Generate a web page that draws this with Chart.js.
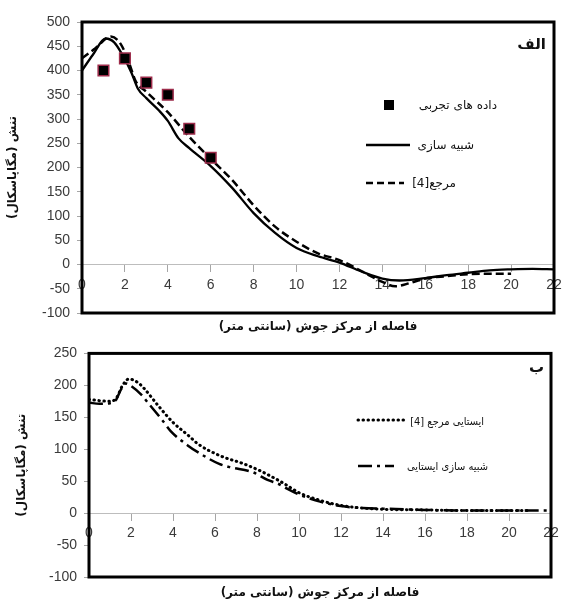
<!DOCTYPE html>
<html><head><meta charset="utf-8">
<script src="https://cdn.jsdelivr.net/npm/chart.js@4"></script>
<style>
html,body{margin:0;padding:0;background:#fff;overflow:hidden;}
#w1{position:absolute;left:0;top:0;width:563px;height:338px;}
#w2{position:absolute;left:0;top:338px;width:563px;height:264px;}
</style></head><body>
<div id="w1"><canvas id="c1"></canvas></div>
<div id="w2"><canvas id="c2"></canvas></div>
<script>
// ---------- data ----------
const xTickValues = [0,2,4,6,8,10,12,14,16,18,20,22];
const yTicksTop = [-100,-50,0,50,100,150,200,250,300,350,400,450,500];
const yTicksBottom = [-100,-50,0,50,100,150,200,250];

// panel الف
const expX = [1,2,3,4,5,6];
const expY = [400,425,375,350,280,220];
const simX = [0,0.5,1.1,1.5,1.9,2.3,2.6,3,3.6,4,4.5,5,6,7,8,9,10,11,12,13,14,14.8,16,17,18,19,20,21,22];
const simY = [400,432,466,458,431,396,363,343,317,296,260,240,203,158,106,65,34,17,4,-14,-29,-33,-28,-22,-17,-12,-10,-9,-10];
const refX = [0,0.6,1.35,1.8,2.2,2.5,3,4,5,6,7,8,9,10,11,12,13,14,14.6,15.3,16,17,18,19,20];
const refY = [425,445,470,455,415,378,356,314,263,218,174,122,78,47,23,9,-13,-36,-45,-38,-29,-24,-20,-19,-19];
const namesTop = ['داده های تجربی','شبیه سازی','مرجع[4]'];

// panel ب
const stSimX = [0,0.5,1,1.3,1.5,1.75,2,2.5,2.8,3.5,3.9,4.7,5.2,6.2,6.7,7.8,8.5,9,9.5,10,10.5,11,12,13,14,16,18,20,22];
const stSimY = [173,171,172,178,192,203,199,185,173,145,128,106,95,77,72,64,52,46,37,29,23,18,11,8,7,5,4,4,4];
const stRefX = [0,0.5,1,1.3,1.6,1.9,2.3,2.6,3.3,4,4.75,5.2,6.3,7.3,8.1,8.7,9.3,10,11,12,13,14,16,18,20,21];
const stRefY = [178,176,175,180,200,210,205,196,168,142,121,108,89,78,67,57,46,32,20,12,8,6,5,4,4,4];
const namesBottom = ['ایستایی مرجع [4]','شبیه سازی ایستایی'];

const xTitle = 'فاصله از مرکز جوش (سانتی متر)';
const yTitle = 'تنش (مگاپاسکال)';
const panelTop = 'الف';
const panelBottom = 'ب';

const pts = (xs, ys) => xs.map((x, i) => ({x, y: ys[i]}));

const FA = '"DejaVu Sans", "Noto Sans", sans-serif';
const FAC = '"DejaVu Sans Condensed", "DejaVu Sans", sans-serif';
const NUM = '"Liberation Sans", Arial, sans-serif';

function drawLegendLine(ctx, x1, x2, y, dash, width, cap) {
  ctx.save();
  ctx.strokeStyle = '#000';
  ctx.lineWidth = width;
  ctx.lineCap = cap || 'butt';
  ctx.setLineDash(dash);
  ctx.beginPath(); ctx.moveTo(x1, y); ctx.lineTo(x2, y); ctx.stroke();
  ctx.restore();
}
function rtlText(ctx, text, x, y, font, align) {
  ctx.save();
  ctx.direction = 'rtl';
  ctx.font = font;
  ctx.fillStyle = '#111';
  ctx.textAlign = align || 'right';
  ctx.textBaseline = 'middle';
  ctx.fillText(text, x, y);
  ctx.restore();
}

function decorPlugin(cfg) {
  return {
    id: 'decor',
    afterDraw(chart) {
      const ctx = chart.ctx, a = chart.chartArea;
      ctx.save();
      ctx.strokeStyle = '#000'; ctx.lineWidth = 3;
      ctx.strokeRect(a.left, a.top, a.right - a.left, a.bottom - a.top);
      ctx.restore();
      cfg.legend(ctx, a);
      rtlText(ctx, cfg.panel, cfg.panelX, cfg.panelY, 'bold 15px ' + FA);
      rtlText(ctx, xTitle, (a.left + a.right) / 2, cfg.xTitleY, 'bold 12px ' + FA, 'center');
      ctx.save();
      ctx.translate(cfg.yTitleX, (a.top + a.bottom) / 2);
      ctx.rotate(-Math.PI / 2);
      rtlText(ctx, yTitle, 0, 0, 'bold 12px ' + FA, 'center');
      ctx.restore();
    }
  };
}

function makeScales(yTicks, yMin, yMax, yWidth) {
  return {
    x: {
      type: 'linear', min: 0, max: 22,
      position: {y: 0},
      afterBuildTicks: s => { s.ticks = xTickValues.map(v => ({value: v})); },
      afterFit: s => { s.paddingLeft = 0; s.paddingRight = 0; },
      ticks: {font: {family: NUM, size: 14}, color: '#3a3a3a', padding: 5, maxRotation: 0, autoSkip: false},
      grid: {drawOnChartArea: false, drawTicks: true, tickLength: 7, color: '#a6a6a6', tickWidth: 1},
      border: {display: true, color: '#bdbdbd', width: 1}
    },
    y: {
      type: 'linear', min: yMin, max: yMax, position: 'left',
      afterBuildTicks: s => { s.ticks = yTicks.map(v => ({value: v})); },
      afterFit: s => { s.width = yWidth; },
      ticks: {font: {family: NUM, size: 14}, color: '#3a3a3a', padding: 7, autoSkip: false},
      grid: {drawOnChartArea: false, drawTicks: true, tickLength: 5, color: '#a6a6a6'},
      border: {display: false}
    }
  };
}

// ---------- chart الف ----------
new Chart(document.getElementById('c1'), {
  type: 'scatter',
  data: {
    datasets: [
      {label: namesTop[1], data: pts(simX, simY), showLine: true, borderColor: '#000', borderWidth: 2.3,
       pointRadius: 0, cubicInterpolationMode: 'monotone', order: 2},
      {label: namesTop[2], data: pts(refX, refY), showLine: true, borderColor: '#000', borderWidth: 2.5,
       borderDash: [8, 4], pointRadius: 0, cubicInterpolationMode: 'monotone', order: 1},
      {label: namesTop[0], data: pts(expX, expY), showLine: false, pointStyle: 'rect', pointRadius: 7.5,
       backgroundColor: '#000', borderColor: '#9c2b4a', borderWidth: 1.5, order: 0}
    ]
  },
  options: {
    responsive: true, maintainAspectRatio: false, animation: false,
    layout: {padding: {left: 0, top: 22, right: 6, bottom: 25}},
    plugins: {legend: {display: false}, tooltip: {enabled: false}},
    scales: makeScales(yTicksTop, -100, 500, 82)
  },
  plugins: [decorPlugin({
    panel: panelTop, panelX: 546, panelY: 45, xTitleY: 327, yTitleX: 13,
    legend(ctx) {
      ctx.save();
      ctx.fillStyle = '#000';
      ctx.fillRect(384, 100, 10, 10);
      ctx.restore();
      rtlText(ctx, namesTop[0], 497, 106, '12px ' + FA);
      drawLegendLine(ctx, 366, 410, 145, [], 2.3);
      rtlText(ctx, namesTop[1], 474, 146, '12px ' + FA);
      drawLegendLine(ctx, 366, 404, 183, [7, 4], 2.5);
      rtlText(ctx, namesTop[2], 456, 184, '12px ' + FA);
    }
  })]
});

// ---------- chart ب ----------
new Chart(document.getElementById('c2'), {
  type: 'scatter',
  data: {
    datasets: [
      {label: namesBottom[0], data: pts(stRefX, stRefY), showLine: true, borderColor: '#000', borderWidth: 3,
       borderDash: [0.5, 4.5], borderCapStyle: 'round', pointRadius: 0, cubicInterpolationMode: 'monotone'},
      {label: namesBottom[1], data: pts(stSimX, stSimY), showLine: true, borderColor: '#000', borderWidth: 2.5,
       borderDash: [14, 5, 3, 5], pointRadius: 0, cubicInterpolationMode: 'monotone'}
    ]
  },
  options: {
    responsive: true, maintainAspectRatio: false, animation: false,
    layout: {padding: {left: 0, top: 11, right: 12, bottom: 25}},
    plugins: {legend: {display: false}, tooltip: {enabled: false}},
    scales: makeScales(yTicksBottom, -100, 250, 89)
  },
  plugins: [decorPlugin({
    panel: panelBottom, panelX: 544, panelY: 30, xTitleY: 255, yTitleX: 22,
    legend(ctx) {
      drawLegendLine(ctx, 358, 406, 82, [0.5, 4.5], 3, 'round');
      rtlText(ctx, namesBottom[0], 484, 84, '11px ' + FAC);
      drawLegendLine(ctx, 358, 394, 128, [14, 5, 3, 5], 2.5);
      rtlText(ctx, namesBottom[1], 488, 129, '11px ' + FAC);
    }
  })]
});
</script>
</body></html>
